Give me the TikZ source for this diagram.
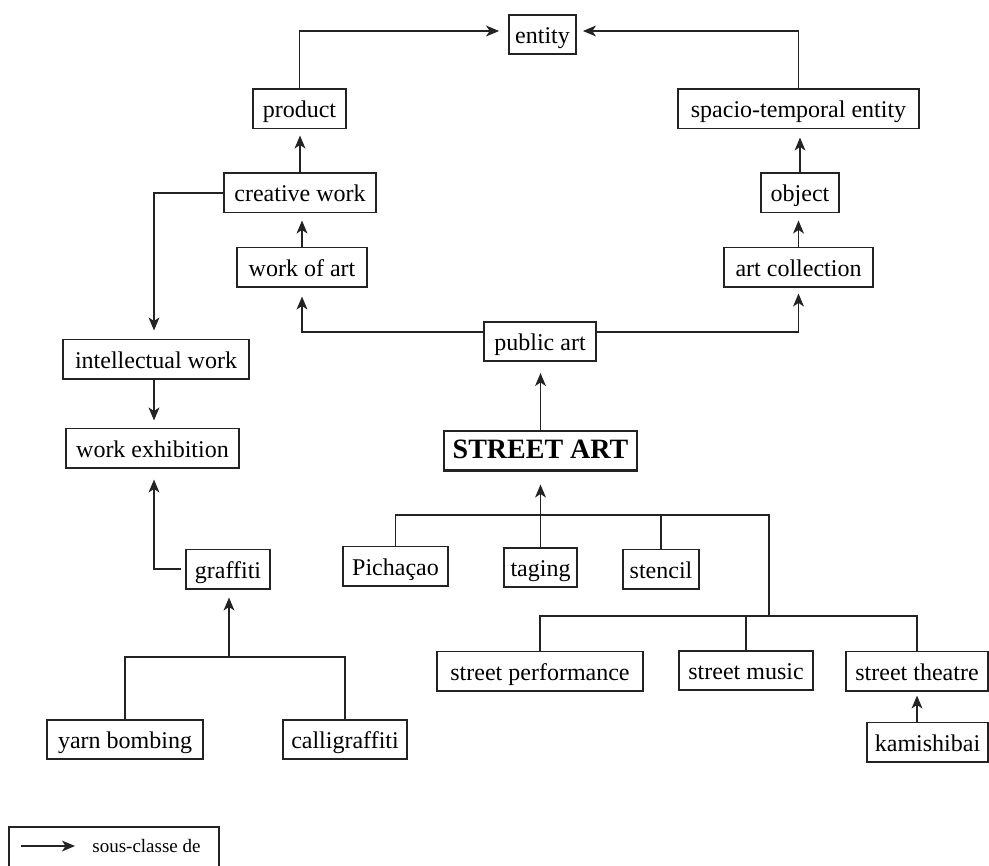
\documentclass[tikz,border=0pt]{standalone}
\usepackage{fontspec}
\setmainfont{Liberation Serif}
\usetikzlibrary{arrows.meta}
\definecolor{linec}{RGB}{35,35,35}
\begin{document}
\begin{tikzpicture}[x=0.5pt,y=-0.5pt,
  line/.style={draw=linec, line width=0.9pt},
  arr/.style={-{Stealth[length=6.5pt,width=5.4pt,inset=1.8pt]}},
  box/.style={draw=linec, line width=0.9pt, inner sep=0pt, minimum height=19.6pt,
    font=\fontsize{12}{14}\selectfont, text height=10.5pt, text depth=1.5pt},
  bw/.style={minimum width=#1*0.5pt},
  bold box/.style={box, line width=1.4pt, font=\fontsize{14}{16}\bfseries\selectfont,
    text height=9.2pt, text depth=1.7pt},
  legendtext/.style={font=\fontsize{9.5}{11}\selectfont, inner sep=0pt, anchor=west}
]
\useasboundingbox (0,0) rectangle (989,866);

% upper ontology
\node[box,bw=67]  (entity)       at (542.5,34.5) {entity};
\node[box,bw=93]  (product)      at (299.5,109)  {product};
\node[box,bw=241] (spacio)       at (798.5,109)  {spacio-temporal entity};
\node[box,bw=152] (creative)     at (300,193)    {creative work};
\node[box,bw=78]  (object)       at (800,193)    {object};
\node[box,bw=130] (workofart)    at (302,267)    {work of art};
\node[box,bw=149] (artcoll)      at (798.5,267)  {art collection};
\node[box,bw=112] (publicart)    at (540,341.5)  {public art};
\node[box,bw=186] (intellectual) at (156,359)    {intellectual work};
\node[box,bw=173] (workexh)      at (152.5,448)  {work exhibition};

% street art and its subclasses
\node[bold box,bw=193] (streetart) at (540.5,450.5) {STREET ART};
\node[box,bw=84]  (graffiti)      at (228,569)    {graffiti};
\node[box,bw=105] (pichacao)      at (395.5,566)  {Pichaçao};
\node[box,bw=73]  (taging)        at (540.5,567.5) {taging};
\node[box,bw=76]  (stencil)       at (661,569)    {stencil};
\node[box,bw=206] (streetperf)    at (540,671)    {street performance};
\node[box,bw=134] (streetmusic)   at (746,670.5)  {street music};
\node[box,bw=142] (streettheatre) at (917,671)    {street theatre};
\node[box,bw=121] (kamishibai)    at (927.5,742)  {kamishibai};
\node[box,bw=156] (yarn)          at (125,739.5)  {yarn bombing};
\node[box,bw=124] (calli)         at (345,739.5)  {calligraffiti};

% subclass links, top part
\draw[line,arr,shorten >=4.5pt] (product.north) |- ([yshift=1.75pt]entity.west);
\draw[line,arr,shorten >=3pt] (spacio.north) |- ([yshift=1.75pt]entity.east);
\draw[line,arr,shorten >=3pt] (creative.north) -- (creative.north |- product.south);
\draw[line,arr,shorten >=3.5pt] (workofart.north) -- (workofart.north |- creative.south);
\draw[line,arr,shorten >=4.5pt] ([yshift=4.75pt]publicart.west) -| (workofart.south);
\draw[line,arr,shorten >=3pt] ([yshift=4.75pt]publicart.east) -| (artcoll.south);
\draw[line,arr,shorten >=3.5pt] (artcoll.north) -- (artcoll.north |- object.south);
\draw[line,arr,shorten >=4pt] (object.north) -- (object.north |- spacio.south);
\draw[line,arr,shorten >=4pt] (creative.west) -| ([xshift=-1pt]intellectual.north);
\draw[line,arr,shorten >=3.5pt] ([xshift=-1pt]intellectual.south) -- ([xshift=-1pt]intellectual.south |- workexh.north);
\draw[line,arr,shorten <=2pt,shorten >=5.5pt] (graffiti.west) -| ([xshift=0.75pt]workexh.south);
\draw[line,arr,shorten >=5.5pt] (streetart.north) -- (streetart.north |- publicart.south);

% tree under STREET ART
\coordinate (saBar)  at (769,515);
\coordinate (saBar2) at (769,616);
\draw[line,arr,shorten >=6.5pt] (taging.north) -- (taging.north |- streetart.south);
\draw[line] (pichacao.north) |- (saBar) -- (saBar2);
\draw[line] (stencil.north) -- (stencil.north |- saBar);
\draw[line] (streetperf.north) |- (saBar2) -| (streettheatre.north);
\draw[line] (streetmusic.north) -- (streetmusic.north |- saBar2);
\draw[line,arr,shorten >=2pt] (streettheatre.south |- kamishibai.north) -- (streettheatre.south);

% tree under graffiti
\coordinate (gBar) at (229,657);
\draw[line,arr,shorten >=4pt] (gBar) -- (gBar |- graffiti.south);
\draw[line] (yarn.north) |- (gBar) -| (calli.north);

% legend
\node[draw=linec, line width=0.9pt, minimum width=105pt, minimum height=21pt, inner sep=0pt] (legend) at (114,848) {};
\coordinate (legA) at (21,846);
\coordinate (legB) at (75,846);
\draw[line,arr] (legA) -- (legB);
\node[legendtext] (legtext) at (92,846) {sous-classe de};
\end{tikzpicture}
\end{document}
